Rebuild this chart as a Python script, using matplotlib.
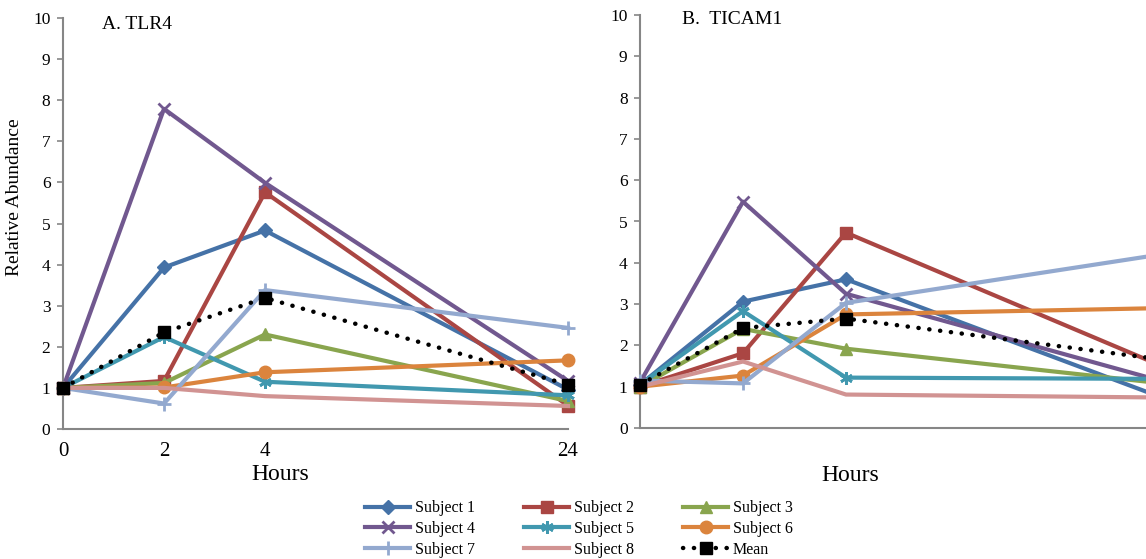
import matplotlib

matplotlib.use("Agg")

import matplotlib.pyplot as plt

plt.rcParams["font.family"] = ["Liberation Serif", "DejaVu Serif"]

# ---------------------------------------------------------------------------
# Data (relative abundance)
# ---------------------------------------------------------------------------
HOURS = ["0", "2", "4", "24"]
X_POS = [0, 2, 4, 10]          # category spacing as drawn (24 h sits further out)

SUBJECTS = ["Subject 1", "Subject 2", "Subject 3", "Subject 4",
            "Subject 5", "Subject 6", "Subject 7", "Subject 8", "Mean"]

tlr4_s1 = [1.0, 3.93, 4.83, 0.96]
tlr4_s2 = [1.0, 1.17, 5.76, 0.57]
tlr4_s3 = [1.0, 1.12, 2.30, 0.68]
tlr4_s4 = [1.0, 7.79, 5.99, 1.17]
tlr4_s5 = [1.0, 2.24, 1.15, 0.82]
tlr4_s6 = [1.0, 1.01, 1.38, 1.67]
tlr4_s7 = [1.0, 0.62, 3.38, 2.46]
tlr4_s8 = [1.0, 1.00, 0.80, 0.56]
tlr4_mean = [1.0, 2.35, 3.19, 1.08]

ticam_s1 = [1.05, 3.06, 3.60, 0.80]
ticam_s2 = [1.00, 1.81, 4.73, 1.57]
ticam_s3 = [1.00, 2.40, 1.92, 1.10]
ticam_s4 = [1.10, 5.48, 3.25, 1.18]
ticam_s5 = [1.05, 2.83, 1.22, 1.19]
ticam_s6 = [1.00, 1.27, 2.75, 2.90]
ticam_s7 = [1.15, 1.08, 3.03, 4.18]
ticam_s8 = [1.00, 1.61, 0.81, 0.74]
ticam_mean = [1.05, 2.42, 2.65, 1.68]

TLR4 = [tlr4_s1, tlr4_s2, tlr4_s3, tlr4_s4, tlr4_s5, tlr4_s6, tlr4_s7, tlr4_s8, tlr4_mean]
TICAM1 = [ticam_s1, ticam_s2, ticam_s3, ticam_s4, ticam_s5, ticam_s6, ticam_s7, ticam_s8, ticam_mean]

# Excel 2007 palette
COLORS = ["#4572A7", "#AA4643", "#89A54E", "#71588F", "#4198AF",
          "#DB843D", "#93A9CF", "#D19392", "black"]
MARKERS = ["D", "s", "^", "x", (6, 2, 0), "o", "+", None, "s"]
MSIZES = [7, 9, 8, 9, 9, 9, 10, 0, 9]

AXIS_GRAY = "#868686"


def style_axes(ax):
    ax.set_xlim(0, 10)
    ax.set_ylim(0, 10)
    ax.set_yticks(range(11))
    for side in ("top", "right"):
        ax.spines[side].set_visible(False)
    for side in ("left", "bottom"):
        ax.spines[side].set_color(AXIS_GRAY)
        ax.spines[side].set_linewidth(1.5)
    ax.tick_params(axis="y", direction="out", length=4, width=1.2,
                   color=AXIS_GRAY, labelsize=12.5, pad=5)
    ax.tick_params(axis="x", length=0, labelsize=15, pad=9)


def draw_series(ax, series):
    handles = []
    for vals, name, col, mk, ms in zip(series, SUBJECTS, COLORS, MARKERS, MSIZES):
        if name == "Mean":
            h, = ax.plot(X_POS, vals, color=col, lw=3.2, ls=(0, (0.05, 2.4)),
                         dash_capstyle="round", marker=mk, ms=ms,
                         mec=col, mfc=col, label=name, clip_on=False, zorder=5)
        else:
            mew = 2 if mk in ("x", "+", (6, 2, 0)) else 1
            h, = ax.plot(X_POS, vals, color=col, lw=3, marker=mk, ms=ms,
                         mec=col, mfc=col, mew=mew, label=name,
                         clip_on=False, zorder=3)
        handles.append(h)
    return handles


fig = plt.figure(figsize=(11.46, 5.59), dpi=100)

# Panel A
ax1 = fig.add_axes([63 / 1146, 1 - 429 / 559, 505 / 1146, 411 / 559])
handles = draw_series(ax1, TLR4)
style_axes(ax1)
ax1.set_xticks(X_POS)
ax1.set_xticklabels(HOURS)
ax1.set_ylabel("Relative Abundance", fontsize=14)
ax1.yaxis.set_label_coords(-0.079, 0.565)
ax1.set_xlabel("Hours", fontsize=17)
ax1.xaxis.set_label_coords(0.43, -0.085)
ax1.text(0.077, 0.985, "A. TLR4", transform=ax1.transAxes,
         fontsize=14, va="center", ha="left")

# Panel B (the 24 h point runs off the right edge of the figure)
ax2 = fig.add_axes([640 / 1146, 1 - 428 / 559, 515 / 1146, 413 / 559])
draw_series(ax2, TICAM1)
style_axes(ax2)
ax2.set_xticks([])
ax2.set_xlabel("Hours", fontsize=17)
ax2.xaxis.set_label_coords(0.408, -0.09)
ax2.text(0.082, 0.99, "B.  TICAM1", transform=ax2.transAxes,
         fontsize=14, va="center", ha="left")

# Legend: row-major order in three columns
order = [0, 3, 6, 1, 4, 7, 2, 5, 8]
leg = fig.legend([handles[i] for i in order], [SUBJECTS[i] for i in order],
                 ncol=3, loc="center", bbox_to_anchor=(579 / 1146, 1 - 529 / 559),
                 frameon=False, fontsize=11.5, handlelength=2.8,
                 handletextpad=0.3, columnspacing=3.1, labelspacing=0.3,
                 borderpad=0)

fig.savefig("out.png", dpi=100)
